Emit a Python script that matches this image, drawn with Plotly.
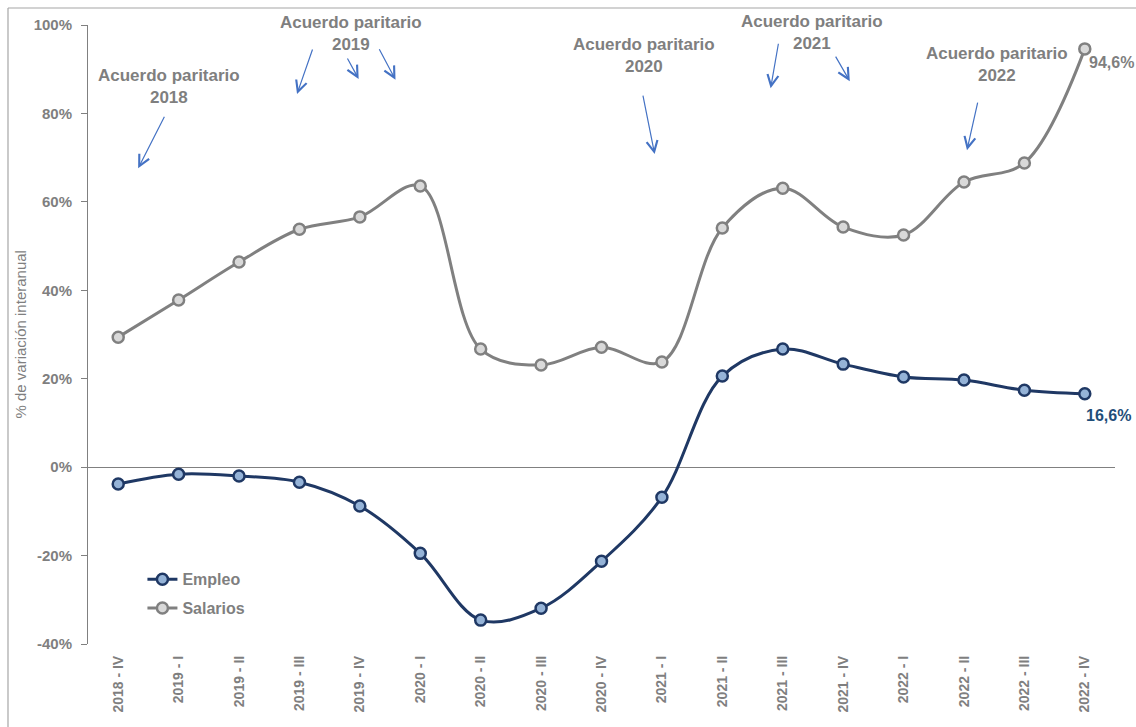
import plotly.graph_objects as go

# Trimestres (eje de categorías)
trimestres = [
    "2018 - IV", "2019 - I", "2019 - II", "2019 - III", "2019 - IV",
    "2020 - I", "2020 - II", "2020 - III", "2020 - IV",
    "2021 - I", "2021 - II", "2021 - III", "2021 - IV",
    "2022 - I", "2022 - II", "2022 - III", "2022 - IV",
]

# Variación interanual (%)
empleo = [-3.8, -1.6, -2.0, -3.4, -8.8, -19.5, -34.6, -31.9, -21.3,
          -6.8, 20.6, 26.7, 23.3, 20.4, 19.7, 17.4, 16.6]
salarios = [29.4, 37.8, 46.4, 53.8, 56.6, 63.6, 26.7, 23.1, 27.1,
            23.8, 54.1, 63.1, 54.3, 52.5, 64.5, 68.8, 94.6]

# Acuerdos paritarios: texto (posición en categorías, valor) y flechas
acuerdos = [
    ("Acuerdo paritario<br>2018", 0.84, 86.0),
    ("Acuerdo paritario<br>2019", 3.86, 98.0),
    ("Acuerdo paritario<br>2020", 8.7, 93.0),
    ("Acuerdo paritario<br>2021", 11.48, 98.3),
    ("Acuerdo paritario<br>2022", 14.55, 91.0),
]
flechas = [  # (x punta, y punta, dx cola px, dy cola px)
    (0.33, 67.6, 27, -53),
    (2.96, 84.4, 16, -46),
    (3.98, 87.8, -12, -22),
    (4.59, 87.6, -17, -32),
    (8.88, 70.8, -12, -60),
    (10.80, 85.7, 8, -46),
    (12.11, 87.3, -15, -26),
    (14.05, 71.7, 11, -49),
]

GRIS = "#7F7F7F"
AZUL = "#1F3864"
FONT = "Arial, Liberation Sans, sans-serif"

x_idx = list(range(len(trimestres)))

fig = go.Figure()
fig.add_trace(go.Scatter(
    x=x_idx, y=empleo, name="Empleo", mode="lines+markers",
    line=dict(color=AZUL, width=3, shape="spline", smoothing=1),
    marker=dict(size=11, color="#95B3D7", line=dict(color=AZUL, width=2.5)),
    legendgroup="a",
))
fig.add_trace(go.Scatter(
    x=x_idx, y=salarios, name="Salarios", mode="lines+markers",
    line=dict(color="#808080", width=3, shape="spline", smoothing=1),
    marker=dict(size=11, color="#D9D9D9", line=dict(color="#808080", width=2.5)),
    legendgroup="b",
))

annotations = []
for texto, xa, ya in acuerdos:
    annotations.append(dict(
        x=xa, y=ya, xref="x", yref="y", text="<b>" + texto + "</b>",
        showarrow=False, font=dict(family=FONT, size=17, color=GRIS),
        align="center",
    ))
for xh, yh, dx, dy in flechas:
    annotations.append(dict(
        x=xh, y=yh, xref="x", yref="y", text="", showarrow=True,
        ax=dx, ay=dy, arrowhead=5, arrowsize=1.8, arrowwidth=1.2,
        arrowcolor="#4472C4", standoff=0, startstandoff=0,
    ))

# Valores finales
annotations.append(dict(
    x=x_idx[-1], y=salarios[-1], xref="x", yref="y",
    text="<b>" + f"{salarios[-1]:.1f}".replace(".", ",") + "%</b>",
    showarrow=False, xshift=27, yshift=-14,
    font=dict(family=FONT, size=16, color=GRIS),
))
annotations.append(dict(
    x=x_idx[-1], y=empleo[-1], xref="x", yref="y",
    text="<b>" + f"{empleo[-1]:.1f}".replace(".", ",") + "%</b>",
    showarrow=False, xshift=24, yshift=-22,
    font=dict(family=FONT, size=16, color="#1F4E79"),
))

# Título del eje Y
annotations.append(dict(
    x=-0.0662, y=0.5, xref="paper", yref="paper",
    text="% de variación interanual", textangle=-90, showarrow=False,
    xanchor="center", yanchor="middle",
    font=dict(family=FONT, size=15, color=GRIS),
))

# Marco exterior (bordes izquierdo y superior)
shapes = [
    dict(type="line", xref="paper", yref="paper", x0=-0.0779, x1=-0.0779,
         y0=1.0275, y1=-0.3, line=dict(color="#A6A6A6", width=1.2)),
    dict(type="line", xref="paper", yref="paper", x0=-0.0779, x1=1.1,
         y0=1.0275, y1=1.0275, line=dict(color="#A6A6A6", width=1.2)),
]

fig.update_layout(
    width=1136, height=727,
    margin=dict(l=88, r=21, t=25, b=83),
    paper_bgcolor="white", plot_bgcolor="white",
    font=dict(family=FONT, color=GRIS),
    showlegend=True,
    legend=dict(
        x=0.053, y=0.132, xanchor="left", yanchor="top",
        font=dict(family=FONT, size=16, color=GRIS, weight="bold"),
        bgcolor="rgba(0,0,0,0)", tracegroupgap=5, traceorder="grouped",
    ),
    annotations=annotations,
    shapes=shapes,
)

fig.update_xaxes(
    type="linear", range=[-0.5, 16.5], tickmode="array",
    tickvals=x_idx, ticktext=trimestres, tickangle=-90,
    showline=False, showgrid=False, zeroline=False, ticks="",
    ticklabelstandoff=8, automargin=False,
    tickfont=dict(family=FONT, size=14, color=GRIS, weight="bold"),
)
fig.update_yaxes(
    range=[-40, 100], tickvals=[-40, -20, 0, 20, 40, 60, 80, 100],
    ticktext=[f"{v}%" for v in [-40, -20, 0, 20, 40, 60, 80, 100]],
    showline=True, linecolor="#808080", linewidth=1,
    ticks="outside", ticklen=6, tickcolor="#808080",
    showgrid=False, zeroline=True, zerolinecolor="#808080", zerolinewidth=1,
    automargin=False, ticklabelstandoff=6,
    tickfont=dict(family=FONT, size=15, color=GRIS, weight="bold"),
)

fig.write_html("out.html")
